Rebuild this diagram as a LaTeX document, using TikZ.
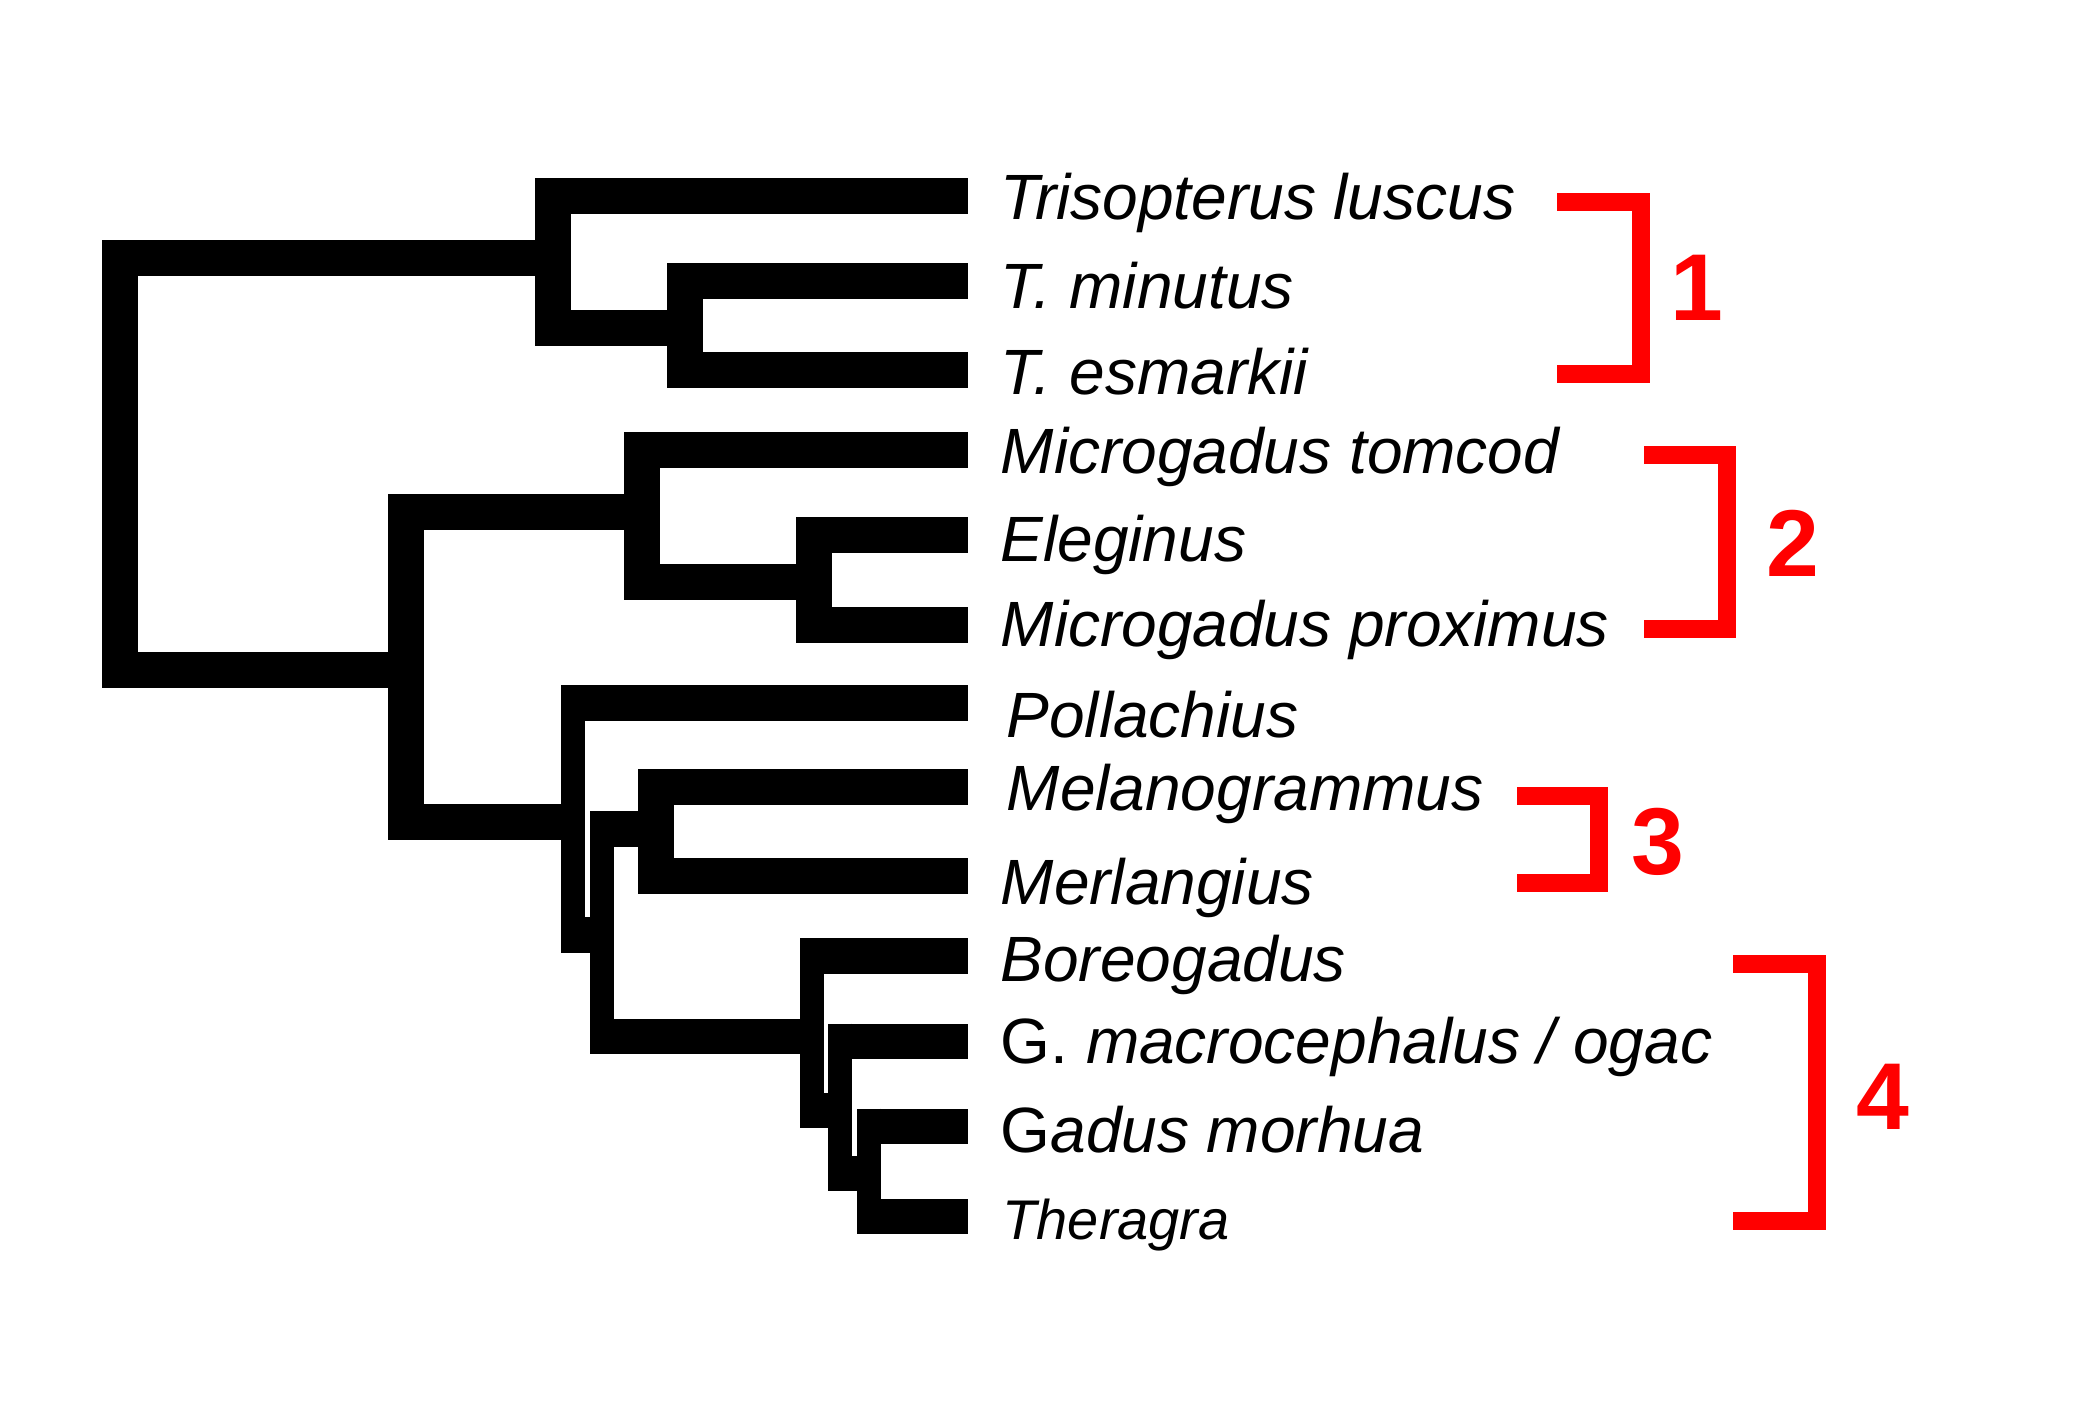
\documentclass[tikz,border=0pt]{standalone}
\usepackage{fontspec}
\setmainfont{Liberation Sans}
\usepackage{tikz}

\begin{document}
\begin{tikzpicture}[x=0.01cm,y=-0.01cm,
                hbar/.style={line width=0.35cm},
                vbar/.style={line width=#1,shorten <=-0.175cm,shorten >=-0.175cm},
                vbar/.default=0.36cm,
                grp/.style={red,line width=0.175cm},
                taxon/.style={anchor=base west,inner sep=0pt,font=\fontsize{18.2}{20}\selectfont\itshape},
                grpnum/.style={red,inner sep=0pt,font=\fontsize{27}{30}\selectfont\bfseries}]
                 \useasboundingbox (0,0) rectangle (2100,1400);
                 \coordinate (t1) at (968,196);
                 \coordinate (t2) at (968,281);
                 \coordinate (t3) at (968,370);
                 \coordinate (t4) at (968,450);
                 \coordinate (t5) at (968,535);
                 \coordinate (t6) at (968,625);
                 \coordinate (t7) at (968,703);
                 \coordinate (t8) at (968,787);
                 \coordinate (t9) at (968,876);
                 \coordinate (t10) at (968,956);
                 \coordinate (t11) at (968,1041);
                 \coordinate (t12) at (968,1126);
                 \coordinate (t13) at (968,1216);
                 \coordinate (c23) at (685,328);
                 \coordinate (c123) at (553,258);
                 \coordinate (c56) at (814,582);
                 \coordinate (c456) at (642,512);
                 \coordinate (c89) at (656,829);
                 \coordinate (c1213) at (869,1173);
                 \coordinate (c11) at (840,1110);
                 \coordinate (c10) at (812,1036);
                 \coordinate (c8) at (602,935);
                 \coordinate (c7) at (573,822);
                 \coordinate (c4) at (406,670);
                 \coordinate (root) at (120,464);
                 \draw[hbar] (root |- c123) -- (c123);
                 \draw[hbar] (root |- c4) -- (c4);
                 \draw[vbar] (root |- c123) -- (root |- c4);
                 \draw[hbar] (c123 |- t1) -- (t1);
                 \draw[hbar] (c123 |- c23) -- (c23);
                 \draw[vbar] (c123 |- t1) -- (c123 |- c23);
                 \draw[hbar] (c23 |- t2) -- (t2);
                 \draw[hbar] (c23 |- t3) -- (t3);
                 \draw[vbar] (c23 |- t2) -- (c23 |- t3);
                 \draw[hbar] (c4 |- c456) -- (c456);
                 \draw[hbar] (c4 |- c7) -- (c7);
                 \draw[vbar] (c4 |- c456) -- (c4 |- c7);
                 \draw[hbar] (c456 |- t4) -- (t4);
                 \draw[hbar] (c456 |- c56) -- (c56);
                 \draw[vbar] (c456 |- t4) -- (c456 |- c56);
                 \draw[hbar] (c56 |- t5) -- (t5);
                 \draw[hbar] (c56 |- t6) -- (t6);
                 \draw[vbar] (c56 |- t5) -- (c56 |- t6);
                 \draw[hbar] (c7 |- t7) -- (t7);
                 \draw[hbar] (c7 |- c8) -- (c8);
                 \draw[vbar=0.24cm] (c7 |- t7) -- (c7 |- c8);
                 \draw[hbar] (c8 |- c89) -- (c89);
                 \draw[hbar] (c8 |- c10) -- (c10);
                 \draw[vbar=0.24cm] (c8 |- c89) -- (c8 |- c10);
                 \draw[hbar] (c89 |- t8) -- (t8);
                 \draw[hbar] (c89 |- t9) -- (t9);
                 \draw[vbar] (c89 |- t8) -- (c89 |- t9);
                 \draw[hbar] (c10 |- t10) -- (t10);
                 \draw[hbar] (c10 |- c11) -- (c11);
                 \draw[vbar=0.24cm] (c10 |- t10) -- (c10 |- c11);
                 \draw[hbar] (c11 |- t11) -- (t11);
                 \draw[hbar] (c11 |- c1213) -- (c1213);
                 \draw[vbar=0.24cm] (c11 |- t11) -- (c11 |- c1213);
                 \draw[hbar] (c1213 |- t12) -- (t12);
                 \draw[hbar] (c1213 |- t13) -- (t13);
                 \draw[vbar=0.24cm] (c1213 |- t12) -- (c1213 |- t13);
                 \node[taxon] (n1) at (1000,219) {Trisopterus luscus};
                 \node[taxon] (n2) at (1000,308) {T. minutus};
                 \node[taxon] (n3) at (1000,394) {T. esmarkii};
                 \node[taxon] (n4) at (1000,473) {Microgadus tomcod};
                 \node[taxon] (n5) at (1000,561) {Eleginus};
                 \node[taxon] (n6) at (1000,646) {Microgadus proximus};
                 \node[taxon] (n7) at (1006,737) {Pollachius};
                 \node[taxon] (n8) at (1006,810) {Melanogrammus};
                 \node[taxon] (n9) at (1000,904) {Merlangius};
                 \node[taxon] (n10) at (1000,981) {Boreogadus};
                 \node[taxon] (n11) at (1000,1063) {{\upshape G.} macrocephalus / ogac};
                 \node[taxon] (n12) at (1000,1152) {{\upshape G}adus morhua};
                 \node[taxon,font=\fontsize{15.9}{18}\selectfont\itshape] (n13) at (1002,1239) {Theragra};
                 \coordinate (br1a) at (1557,202);
                 \coordinate (br1b) at (1641,374);
                 \coordinate (br1c) at (1557,374);
                 \draw[grp] (br1a) -| (br1b) -- (br1c);
                 \node[grpnum] (num1) at (1697,288) {1};
                 \coordinate (br2a) at (1644,455);
                 \coordinate (br2b) at (1727,629);
                 \coordinate (br2c) at (1644,629);
                 \draw[grp] (br2a) -| (br2b) -- (br2c);
                 \node[grpnum] (num2) at (1793,543) {2};
                 \coordinate (br3a) at (1517,796);
                 \coordinate (br3b) at (1599,883);
                 \coordinate (br3c) at (1517,883);
                 \draw[grp] (br3a) -| (br3b) -- (br3c);
                 \node[grpnum] (num3) at (1658,842) {3};
                 \coordinate (br4a) at (1733,964);
                 \coordinate (br4b) at (1817,1221);
                 \coordinate (br4c) at (1733,1221);
                 \draw[grp] (br4a) -| (br4b) -- (br4c);
                 \node[grpnum] (num4) at (1883,1097) {4};
            \end{tikzpicture}
\end{document}
